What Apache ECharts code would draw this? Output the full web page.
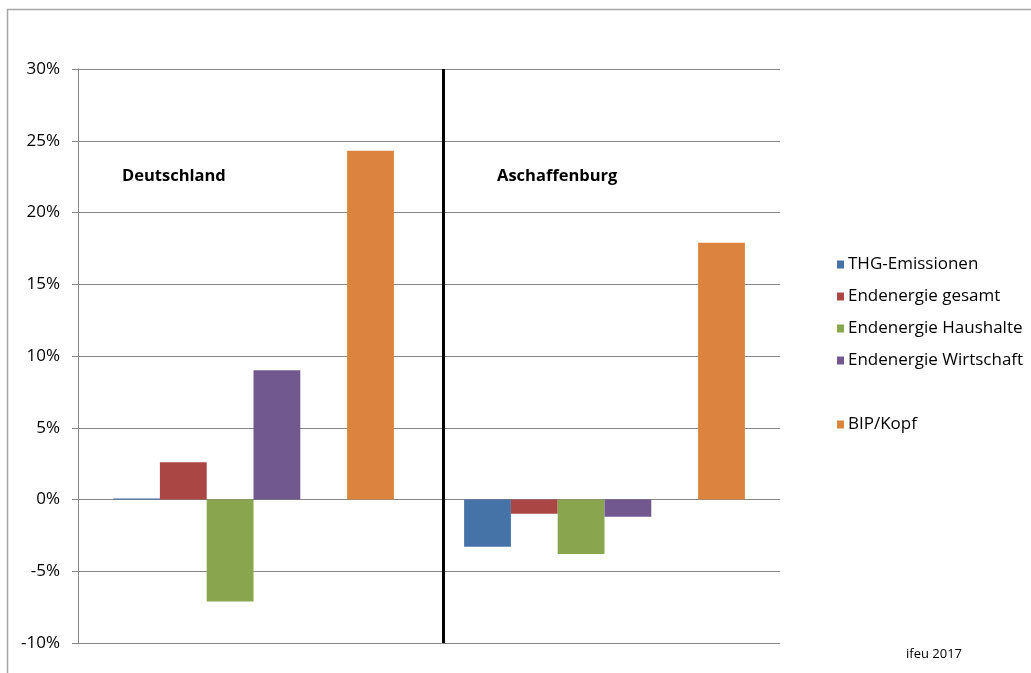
<!DOCTYPE html>
<html>
<head>
<meta charset="utf-8">
<script src="https://cdn.jsdelivr.net/npm/echarts@6/dist/echarts.min.js"></script>
<style>
  html, body { margin: 0; padding: 0; background: #fff; }
  #chart { width: 1031px; height: 673px; }
</style>
</head>
<body>
<div id="chart"></div>
<script>
// Regions compared
const regions = ['Deutschland', 'Aschaffenburg'];

// Change in percent per indicator
const thgEmissionen = [0.0, -3.3];
const endenergieGesamt = [2.6, -1.0];
const endenergieHaushalte = [-7.1, -3.8];
const endenergieWirtschaft = [9.0, -1.2];
const spacer = [null, null];
const bipKopf = [24.3, 17.9];

// Value axis ticks
const yMin = -10;
const yMax = 30;
const yStep = 5;

const seriesDefs = [
  { name: 'THG-Emissionen', data: thgEmissionen, color: '#4572A7' },
  { name: 'Endenergie gesamt', data: endenergieGesamt, color: '#AA4643' },
  { name: 'Endenergie Haushalte', data: endenergieHaushalte, color: '#89A54E' },
  { name: 'Endenergie Wirtschaft', data: endenergieWirtschaft, color: '#71588F' },
  { name: ' ', data: spacer, color: 'rgba(0,0,0,0)' },
  { name: 'BIP/Kopf', data: bipKopf, color: '#DB843D' }
];

const font = '"Open Sans", "Noto Sans", sans-serif';

const chart = echarts.init(document.getElementById('chart'), null, { renderer: 'canvas' });

const barSeries = seriesDefs.map(d => ({
  name: d.name,
  type: 'bar',
  data: d.data,
  barGap: '0%',
  barCategoryGap: '20%',
  barMinHeight: d.name === 'THG-Emissionen' ? 1 : 0,
  itemStyle: { color: d.color },
  emphasis: { disabled: true }
}));

// Divider between the two regions
barSeries.push({
  name: 'divider',
  type: 'line',
  xAxisIndex: 1,
  data: [],
  silent: true,
  markLine: {
    silent: true,
    symbol: ['none', 'none'],
    label: { show: false },
    lineStyle: { color: '#000', width: 3, type: 'solid' },
    data: [{ xAxis: 1.04 }]
  }
});

chart.setOption({
  animation: false,
  backgroundColor: '#fff',
  textStyle: { fontFamily: font },
  grid: { left: 78, right: 251, top: 69, bottom: 30, containLabel: false, outerBoundsMode: 'none' },
  legend: {
    orient: 'vertical',
    left: 832,
    top: 251,
    itemWidth: 7,
    itemHeight: 8,
    itemGap: 15,
    icon: 'rect',
    selectedMode: false,
    data: seriesDefs.map(d => d.name),
    textStyle: { fontFamily: font, fontSize: 17, color: '#000', padding: [0, 0, 0, -1] }
  },
  xAxis: [
    {
      type: 'category',
      data: regions,
      axisLine: { show: false },
      axisTick: { show: false },
      axisLabel: { show: false },
      splitLine: { show: false }
    },
    {
      type: 'value',
      min: 0,
      max: 2,
      show: false
    }
  ],
  yAxis: {
    type: 'value',
    min: yMin,
    max: yMax,
    interval: yStep,
    axisLine: { show: true, lineStyle: { color: '#868686', width: 1 } },
    axisTick: { show: true, length: 6, lineStyle: { color: '#868686' } },
    axisLabel: {
      formatter: v => v + '%',
      fontSize: 17,
      color: '#000',
      margin: 18,
      fontFamily: font
    },
    splitLine: { show: true, lineStyle: { color: '#868686', width: 1 } }
  },
  series: barSeries,
  graphic: [
    {
      type: 'rect',
      shape: { x: 7.5, y: 9.5, width: 1100, height: 800 },
      style: { fill: 'none', stroke: '#a6a6a6', lineWidth: 1.5 },
      z: 100,
      silent: true
    },
    {
      type: 'text',
      left: 122,
      top: 168,
      style: { text: 'Deutschland', font: 'bold 16.5px ' + font, fill: '#000' }
    },
    {
      type: 'text',
      left: 497,
      top: 168,
      style: { text: 'Aschaffenburg', font: 'bold 16.5px ' + font, fill: '#000' }
    },
    {
      type: 'text',
      left: 906,
      top: 648,
      style: { text: 'ifeu 2017', font: '13px ' + font, fill: '#000' }
    }
  ]
});
</script>
</body>
</html>
